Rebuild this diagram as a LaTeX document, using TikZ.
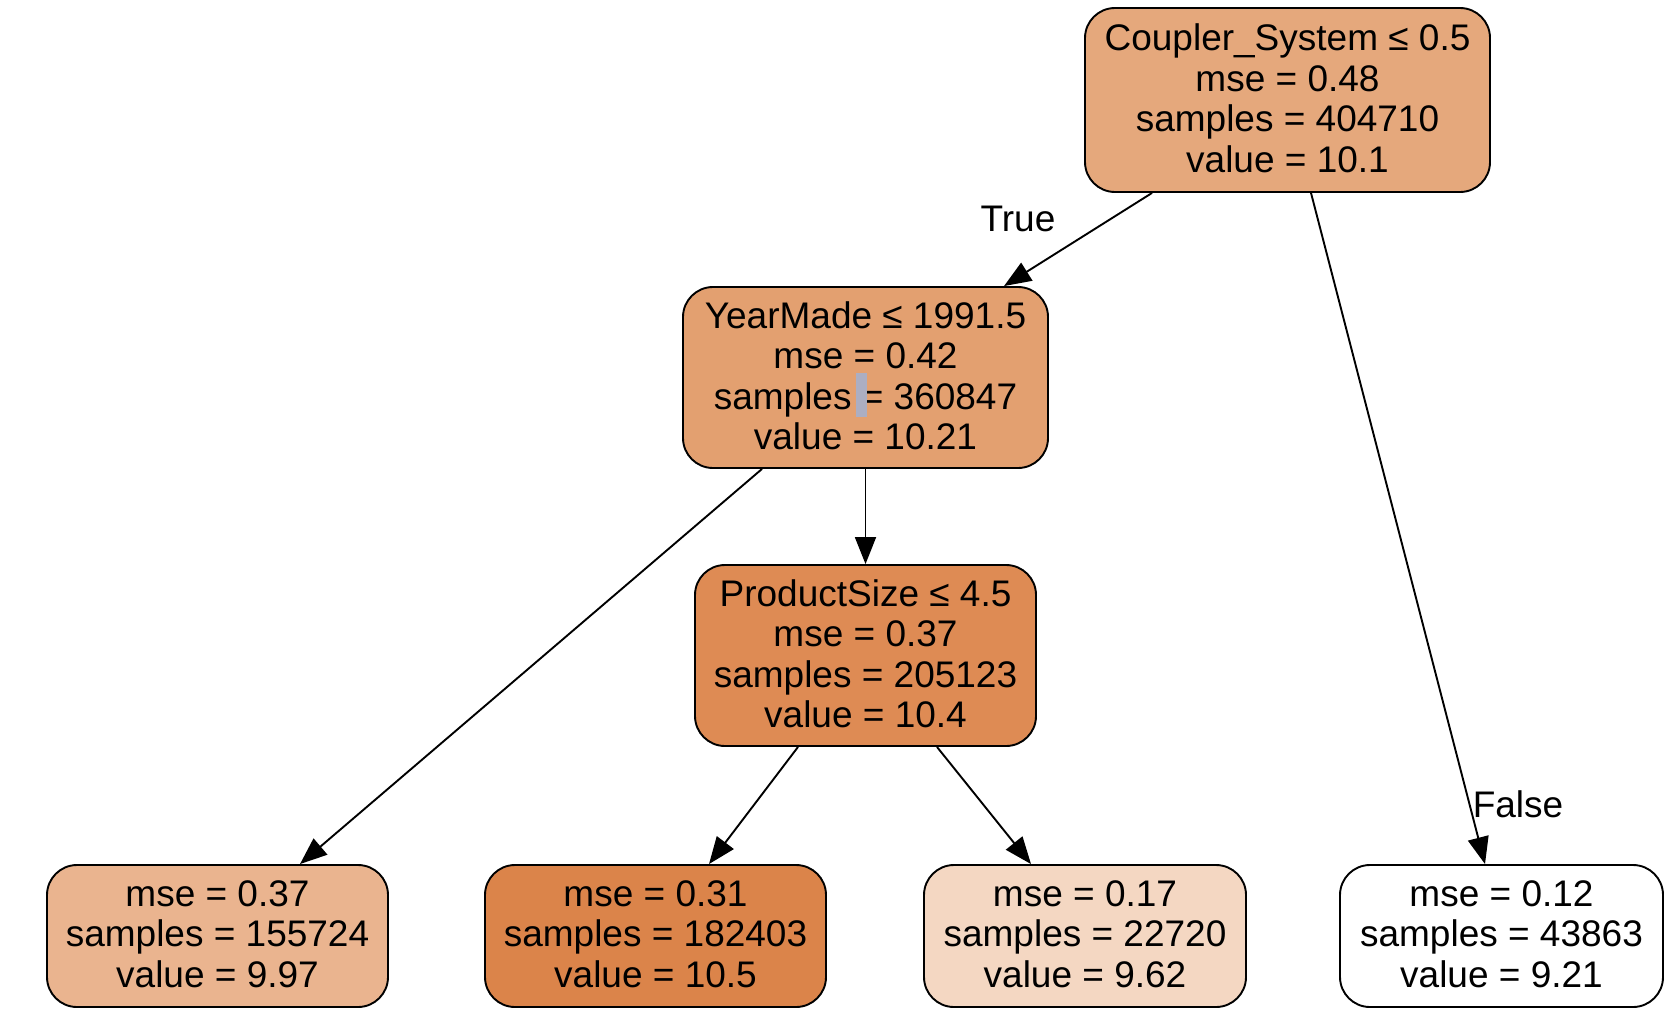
\documentclass[tikz,border=0pt]{standalone}
\usepackage{fontspec}
\setmainfont{Liberation Sans}
\usetikzlibrary{arrows.meta}
\definecolor{cRoot}{RGB}{229,168,124}
\definecolor{cYM}{RGB}{227,160,112}
\definecolor{cPS}{RGB}{222,139,84}
\definecolor{cLA}{RGB}{234,180,143}
\definecolor{cLB}{RGB}{219,132,74}
\definecolor{cLC}{RGB}{244,215,194}
\definecolor{cSel}{RGB}{172,174,194}
\newcommand{\lift}{\rule[-4pt]{0pt}{4pt}}
\tikzset{
  treebox/.style={draw=black, line width=1.9pt, rounded corners=30pt, align=center,
    inner sep=0pt, font=\fontsize{37}{40.5}\selectfont},
  edge/.style={line width=1.9pt, -{Triangle[length=27pt,width=21pt]}},
  elabel/.style={font=\fontsize{37}{40}\selectfont, inner sep=0pt}
}
\begin{document}
\begin{tikzpicture}[x=1pt,y=-1pt]
\useasboundingbox (0,0) rectangle (1680,1026);
\node[treebox, fill=cRoot, minimum width=405pt, minimum height=184pt] (root) at (1287.5,100)
  {Coupler\_System ≤ 0.5\\mse = 0.48\\samples = 404710\\value = 10.1\lift};
\node[treebox, fill=cYM, minimum width=365pt, minimum height=181pt] (ym) at (865.5,377.5)
  {YearMade ≤ 1991.5\\mse = 0.42\\samples = 360847\\value = 10.21\lift};
\fill[cSel] (856,373) rectangle (867,417);
\node[treebox, fill=cPS, minimum width=341pt, minimum height=181pt] (ps) at (865.5,655.5)
  {ProductSize ≤ 4.5\\mse = 0.37\\samples = 205123\\value = 10.4\lift};
\node[treebox, fill=cLA, minimum width=341pt, minimum height=142pt] (la) at (217.5,936)
  {mse = 0.37\\samples = 155724\\value = 9.97\lift};
\node[treebox, fill=cLB, minimum width=341pt, minimum height=142pt] (lb) at (655.5,936)
  {mse = 0.31\\samples = 182403\\value = 10.5\lift};
\node[treebox, fill=cLC, minimum width=322pt, minimum height=142pt] (lc) at (1085,936)
  {mse = 0.17\\samples = 22720\\value = 9.62\lift};
\node[treebox, fill=white, minimum width=323pt, minimum height=142pt] (ld) at (1501.5,936)
  {mse = 0.12\\samples = 43863\\value = 9.21\lift};
\draw[edge] ([xshift=-135.5pt]root.south) -- ([xshift=138.5pt]ym.north);
\draw[edge] ([xshift=23.5pt]root.south) -- ([xshift=-16.5pt]ld.north);
\draw[edge] ([xshift=-103.5pt]ym.south) -- ([xshift=82.5pt]la.north);
\draw[edge] (ym.south) -- (ps.north);
\draw[edge] ([xshift=-67.5pt]ps.south) -- ([xshift=53.5pt]lb.north);
\draw[edge] ([xshift=71.5pt]ps.south) -- ([xshift=-54pt]lc.north);
\node[elabel] (ltrue) at (1018,219) {True};
\node[elabel] (lfalse) at (1518,804) {False};
\end{tikzpicture}
\end{document}
